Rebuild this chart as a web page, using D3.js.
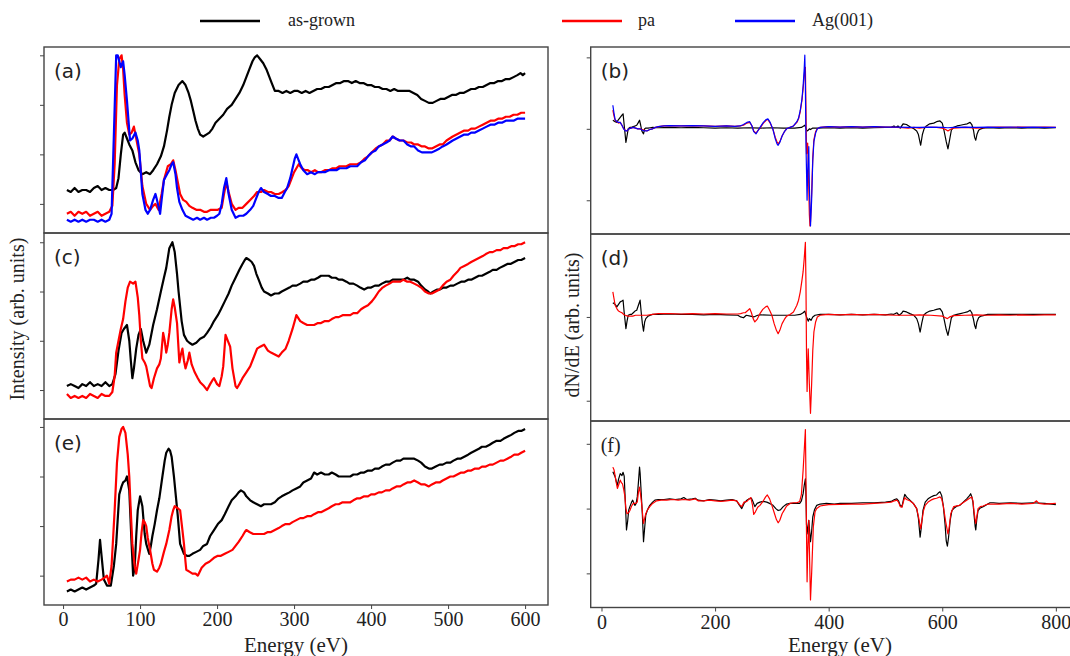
<!DOCTYPE html>
<html>
<head>
<meta charset="utf-8">
<script src="https://cdn.jsdelivr.net/npm/d3@7"></script>
<style>
  body { margin: 0; background: #fff; }
  .frame { fill: none; stroke: #444; stroke-width: 1.4; }
  .tick line { stroke: #444; }
  .domain { display: none; }
  .tick text { font-family: "Liberation Serif", serif; font-size: 20px; fill: #222; }
</style>
</head>
<body>
<div id="chart"></div>
<script>
// ---- data: energy (eV) / intensity (arb.) ----
var seriesNames = ['as-grown', 'pa', 'Ag(001)'];
var seriesColors = ['#000000', '#ff0000', '#0000ff'];
var panelLabels = ['(a)', '(b)', '(c)', '(d)', '(e)', '(f)'];
var leftTicks = [0, 100, 200, 300, 400, 500, 600];
var rightTicks = [0, 200, 400, 600, 800];

// (a) N(E), as-grown / pa / Ag(001)
var aGrown = [[5,0.32],[10,0.31],[15,0.33],[20,0.31],[25,0.32],[30,0.32],[35,0.31],[40,0.33],[45,0.34],[50,0.32],[55,0.33],[60,0.32],[65,0.32],[69,0.33],[72,0.38],[75,0.50],[78,0.60],[80,0.61],[83,0.58],[86,0.55],[90,0.52],[94,0.46],[98,0.42],[103,0.40],[108,0.41],[113,0.40],[117,0.42],[122,0.45],[127,0.49],[131,0.54],[135,0.62],[138,0.69],[141,0.75],[145,0.81],[150,0.85],[155,0.87],[159,0.85],[163,0.81],[166,0.77],[169,0.72],[172,0.67],[175,0.63],[178,0.60],[182,0.59],[186,0.60],[190,0.61],[194,0.63],[198,0.66],[203,0.68],[208,0.70],[213,0.73],[219,0.75],[224,0.78],[229,0.81],[234,0.85],[238,0.89],[242,0.93],[246,0.97],[249,0.99],[252,1.0],[256,0.98],[260,0.96],[264,0.93],[268,0.89],[271,0.86],[275,0.82],[280,0.82],[285,0.81],[290,0.82],[295,0.81],[300,0.82],[305,0.82],[310,0.81],[315,0.82],[320,0.81],[325,0.82],[330,0.83],[335,0.83],[340,0.84],[345,0.84],[350,0.85],[355,0.86],[360,0.86],[365,0.87],[370,0.87],[375,0.86],[380,0.87],[385,0.86],[390,0.86],[395,0.85],[400,0.85],[405,0.84],[410,0.84],[415,0.83],[420,0.83],[425,0.82],[430,0.83],[435,0.82],[440,0.82],[445,0.82],[450,0.82],[455,0.81],[460,0.80],[465,0.78],[470,0.77],[475,0.76],[480,0.76],[485,0.77],[490,0.78],[495,0.78],[500,0.79],[505,0.80],[510,0.80],[515,0.81],[520,0.81],[525,0.82],[530,0.83],[535,0.83],[540,0.84],[545,0.84],[550,0.85],[555,0.86],[560,0.86],[565,0.87],[570,0.87],[575,0.88],[580,0.88],[585,0.89],[590,0.90],[594,0.91],[597,0.90],[600,0.91]];
var aPa = [[5,0.20],[10,0.21],[15,0.19],[20,0.21],[25,0.20],[30,0.21],[35,0.19],[40,0.20],[45,0.21],[50,0.19],[55,0.20],[60,0.21],[64,0.24],[67,0.45],[70,0.85],[73,0.98],[76,1.0],[78,0.93],[80,0.80],[83,0.66],[86,0.60],[89,0.61],[92,0.64],[95,0.58],[99,0.50],[103,0.34],[108,0.25],[113,0.22],[117,0.24],[120,0.25],[124,0.22],[128,0.30],[131,0.37],[136,0.44],[140,0.45],[143,0.47],[146,0.42],[148,0.38],[152,0.30],[156,0.27],[160,0.26],[164,0.24],[168,0.23],[173,0.22],[178,0.22],[183,0.21],[187,0.21],[192,0.22],[196,0.22],[201,0.22],[206,0.23],[209,0.30],[212,0.36],[215,0.31],[219,0.25],[224,0.22],[228,0.23],[233,0.23],[238,0.25],[243,0.27],[248,0.29],[252,0.31],[257,0.31],[261,0.32],[266,0.31],[270,0.31],[275,0.30],[280,0.30],[285,0.31],[289,0.32],[293,0.34],[296,0.37],[300,0.41],[303,0.43],[306,0.45],[310,0.43],[314,0.42],[318,0.42],[322,0.41],[327,0.42],[331,0.41],[335,0.41],[340,0.42],[345,0.42],[350,0.43],[355,0.43],[359,0.44],[364,0.44],[368,0.44],[373,0.45],[378,0.45],[382,0.45],[387,0.46],[392,0.48],[396,0.49],[401,0.51],[406,0.53],[410,0.54],[415,0.55],[420,0.57],[424,0.57],[428,0.59],[432,0.58],[437,0.57],[442,0.57],[447,0.56],[452,0.56],[456,0.55],[461,0.55],[466,0.54],[470,0.54],[475,0.53],[479,0.53],[484,0.54],[489,0.55],[493,0.55],[498,0.57],[502,0.58],[506,0.59],[511,0.60],[516,0.61],[521,0.62],[526,0.62],[530,0.63],[535,0.63],[540,0.64],[545,0.65],[550,0.66],[555,0.67],[560,0.67],[565,0.68],[570,0.68],[575,0.69],[580,0.69],[585,0.70],[590,0.70],[595,0.71],[600,0.71]];
var aAg = [[5,0.17],[10,0.16],[15,0.17],[20,0.16],[25,0.17],[30,0.16],[35,0.17],[40,0.17],[45,0.16],[50,0.17],[55,0.16],[60,0.17],[63,0.20],[66,0.60],[69,1.0],[71,1.0],[73,0.97],[75,0.94],[78,0.97],[80,0.90],[83,0.77],[87,0.57],[90,0.58],[94,0.61],[97,0.57],[99,0.52],[103,0.30],[107,0.22],[110,0.20],[113,0.22],[117,0.27],[120,0.30],[122,0.27],[126,0.20],[128,0.27],[131,0.37],[135,0.40],[138,0.42],[141,0.45],[143,0.46],[146,0.40],[148,0.33],[151,0.26],[155,0.22],[159,0.19],[164,0.18],[169,0.17],[174,0.18],[178,0.17],[183,0.18],[187,0.17],[192,0.18],[196,0.18],[200,0.19],[203,0.20],[206,0.25],[209,0.33],[212,0.38],[215,0.30],[219,0.22],[224,0.18],[229,0.19],[234,0.19],[238,0.20],[243,0.22],[247,0.24],[250,0.27],[254,0.31],[257,0.33],[261,0.31],[266,0.30],[270,0.29],[275,0.29],[280,0.28],[284,0.28],[288,0.31],[291,0.33],[295,0.38],[298,0.43],[301,0.48],[303,0.50],[306,0.47],[308,0.45],[312,0.42],[317,0.40],[322,0.41],[327,0.40],[331,0.41],[335,0.41],[340,0.41],[345,0.42],[350,0.42],[355,0.42],[359,0.43],[364,0.43],[368,0.43],[373,0.44],[378,0.44],[382,0.44],[387,0.46],[392,0.47],[396,0.49],[401,0.51],[406,0.52],[410,0.54],[415,0.55],[420,0.56],[424,0.57],[428,0.59],[432,0.58],[437,0.57],[442,0.57],[447,0.55],[452,0.54],[456,0.54],[461,0.52],[466,0.51],[470,0.51],[475,0.51],[479,0.51],[484,0.52],[489,0.53],[493,0.54],[498,0.55],[502,0.56],[506,0.57],[511,0.58],[516,0.59],[521,0.60],[526,0.60],[530,0.61],[535,0.61],[540,0.62],[545,0.63],[550,0.64],[555,0.65],[560,0.65],[565,0.66],[570,0.66],[575,0.67],[580,0.67],[585,0.67],[590,0.68],[595,0.68],[600,0.68]];

// (c) N(E), as-grown / pa
var cGrown = [[5,0.27],[10,0.28],[15,0.27],[20,0.26],[25,0.28],[30,0.27],[35,0.29],[40,0.27],[45,0.28],[50,0.27],[55,0.29],[60,0.27],[64,0.28],[68,0.33],[72,0.45],[76,0.54],[79,0.56],[83,0.58],[86,0.50],[88,0.40],[90,0.31],[92,0.36],[95,0.46],[98,0.53],[101,0.56],[104,0.50],[108,0.44],[112,0.48],[117,0.58],[122,0.66],[127,0.75],[131,0.82],[134,0.87],[138,0.97],[142,1.0],[145,0.95],[148,0.84],[150,0.75],[154,0.60],[157,0.53],[161,0.50],[164,0.49],[168,0.48],[173,0.49],[178,0.51],[183,0.52],[187,0.54],[192,0.57],[196,0.60],[201,0.63],[205,0.66],[210,0.70],[215,0.74],[219,0.78],[224,0.82],[229,0.86],[233,0.89],[236,0.91],[238,0.92],[242,0.91],[245,0.90],[248,0.88],[251,0.84],[254,0.81],[258,0.77],[261,0.75],[266,0.74],[270,0.73],[275,0.74],[280,0.74],[284,0.75],[289,0.76],[294,0.77],[298,0.78],[303,0.78],[308,0.79],[312,0.80],[317,0.80],[322,0.81],[326,0.81],[331,0.82],[335,0.83],[340,0.83],[345,0.83],[349,0.82],[354,0.82],[358,0.81],[363,0.81],[368,0.80],[372,0.79],[377,0.79],[382,0.78],[386,0.77],[391,0.76],[396,0.77],[400,0.77],[405,0.78],[410,0.78],[414,0.79],[419,0.80],[424,0.80],[428,0.81],[433,0.81],[438,0.81],[442,0.81],[447,0.82],[451,0.81],[456,0.81],[461,0.80],[465,0.78],[470,0.76],[474,0.75],[477,0.74],[481,0.75],[486,0.76],[489,0.76],[494,0.77],[498,0.77],[503,0.78],[507,0.78],[512,0.79],[517,0.80],[521,0.80],[526,0.81],[530,0.81],[535,0.82],[540,0.83],[544,0.83],[549,0.84],[554,0.85],[558,0.86],[563,0.86],[567,0.87],[572,0.88],[577,0.89],[581,0.89],[586,0.90],[591,0.91],[595,0.91],[600,0.92]];
var cPa = [[5,0.23],[10,0.21],[15,0.22],[20,0.21],[25,0.22],[30,0.21],[35,0.23],[40,0.22],[45,0.21],[50,0.23],[55,0.22],[60,0.22],[64,0.24],[67,0.32],[69,0.44],[72,0.50],[75,0.56],[78,0.61],[81,0.70],[84,0.77],[87,0.80],[91,0.79],[94,0.80],[97,0.72],[99,0.63],[101,0.50],[103,0.41],[106,0.39],[108,0.37],[111,0.31],[113,0.27],[115,0.26],[118,0.31],[122,0.36],[125,0.38],[127,0.41],[130,0.54],[132,0.50],[134,0.44],[136,0.48],[138,0.54],[141,0.66],[143,0.71],[145,0.67],[148,0.59],[151,0.39],[153,0.43],[155,0.46],[157,0.40],[159,0.36],[162,0.40],[164,0.44],[167,0.38],[171,0.34],[175,0.31],[178,0.29],[183,0.27],[187,0.25],[191,0.28],[194,0.30],[196,0.31],[200,0.28],[203,0.27],[206,0.32],[208,0.37],[211,0.53],[214,0.50],[217,0.47],[220,0.36],[224,0.27],[226,0.26],[229,0.28],[233,0.31],[238,0.34],[243,0.37],[247,0.41],[252,0.46],[256,0.47],[261,0.48],[266,0.45],[270,0.44],[275,0.43],[280,0.42],[284,0.44],[289,0.46],[293,0.50],[298,0.56],[303,0.63],[308,0.60],[312,0.59],[317,0.58],[321,0.58],[326,0.58],[331,0.59],[335,0.59],[340,0.60],[345,0.60],[349,0.61],[354,0.62],[358,0.62],[363,0.63],[368,0.63],[373,0.63],[377,0.64],[382,0.64],[387,0.66],[391,0.67],[396,0.68],[401,0.70],[405,0.72],[410,0.75],[415,0.77],[419,0.78],[424,0.79],[428,0.80],[433,0.80],[438,0.80],[442,0.81],[447,0.80],[451,0.80],[456,0.79],[461,0.78],[465,0.77],[470,0.75],[475,0.74],[479,0.74],[484,0.75],[489,0.76],[493,0.78],[498,0.80],[503,0.81],[507,0.83],[512,0.85],[516,0.87],[521,0.88],[526,0.89],[530,0.90],[535,0.91],[540,0.92],[545,0.93],[549,0.94],[554,0.95],[558,0.95],[563,0.96],[568,0.96],[572,0.97],[577,0.97],[582,0.98],[586,0.98],[591,0.99],[595,0.99],[600,1.0]];

// (e) N(E), as-grown / pa
var eGrown = [[5,0.17],[10,0.18],[15,0.17],[20,0.18],[25,0.19],[30,0.18],[35,0.19],[40,0.20],[43,0.21],[46,0.33],[48,0.43],[50,0.35],[53,0.23],[57,0.20],[62,0.20],[66,0.30],[69,0.41],[73,0.66],[76,0.70],[78,0.72],[81,0.73],[83,0.75],[86,0.68],[88,0.50],[89,0.41],[91,0.25],[93,0.29],[95,0.45],[97,0.58],[100,0.65],[103,0.60],[106,0.46],[108,0.41],[112,0.36],[114,0.40],[116,0.45],[119,0.51],[122,0.58],[125,0.64],[129,0.75],[132,0.83],[134,0.87],[137,0.89],[139,0.88],[141,0.85],[144,0.75],[146,0.67],[149,0.55],[152,0.41],[155,0.38],[157,0.36],[161,0.35],[164,0.35],[168,0.36],[173,0.37],[178,0.38],[182,0.40],[187,0.41],[191,0.45],[196,0.48],[201,0.51],[206,0.53],[210,0.56],[215,0.60],[219,0.63],[224,0.65],[228,0.67],[231,0.68],[235,0.67],[238,0.65],[243,0.63],[247,0.62],[252,0.61],[257,0.60],[261,0.61],[266,0.61],[270,0.61],[275,0.62],[280,0.64],[284,0.65],[289,0.66],[294,0.67],[298,0.68],[303,0.69],[308,0.70],[312,0.72],[317,0.73],[322,0.74],[326,0.77],[330,0.76],[335,0.77],[340,0.76],[345,0.76],[349,0.77],[354,0.76],[358,0.75],[363,0.75],[368,0.75],[373,0.75],[377,0.76],[382,0.76],[387,0.77],[391,0.77],[396,0.78],[401,0.78],[405,0.79],[410,0.79],[414,0.80],[419,0.81],[424,0.81],[428,0.82],[433,0.83],[438,0.83],[442,0.84],[447,0.84],[451,0.84],[456,0.84],[461,0.83],[465,0.82],[470,0.80],[475,0.79],[479,0.79],[484,0.80],[489,0.81],[493,0.81],[498,0.82],[503,0.82],[507,0.83],[512,0.84],[516,0.84],[521,0.85],[526,0.86],[530,0.87],[535,0.88],[540,0.89],[544,0.90],[549,0.90],[554,0.91],[558,0.92],[563,0.93],[568,0.93],[572,0.94],[577,0.95],[582,0.96],[586,0.97],[591,0.98],[595,0.98],[600,0.99]];
var ePa = [[5,0.22],[10,0.23],[15,0.23],[20,0.24],[25,0.23],[30,0.24],[35,0.22],[40,0.23],[45,0.22],[50,0.23],[54,0.24],[57,0.25],[60,0.21],[63,0.30],[67,0.58],[70,0.82],[73,0.95],[76,0.99],[78,1.0],[81,0.97],[84,0.86],[86,0.75],[88,0.57],[90,0.41],[93,0.30],[95,0.26],[98,0.33],[100,0.38],[102,0.47],[104,0.53],[106,0.52],[108,0.50],[110,0.44],[113,0.38],[116,0.31],[118,0.28],[122,0.27],[125,0.29],[127,0.31],[131,0.37],[134,0.41],[138,0.48],[141,0.55],[143,0.58],[145,0.60],[149,0.59],[152,0.58],[155,0.48],[157,0.41],[159,0.32],[160,0.28],[164,0.27],[168,0.26],[172,0.26],[175,0.25],[180,0.29],[185,0.31],[190,0.32],[196,0.34],[201,0.35],[205,0.35],[210,0.36],[215,0.37],[220,0.38],[224,0.40],[228,0.42],[233,0.45],[236,0.47],[238,0.48],[242,0.47],[247,0.46],[252,0.46],[257,0.46],[261,0.46],[266,0.47],[270,0.47],[275,0.48],[280,0.49],[284,0.50],[289,0.51],[294,0.51],[298,0.52],[303,0.53],[308,0.54],[312,0.54],[317,0.55],[322,0.55],[326,0.56],[331,0.57],[335,0.57],[340,0.58],[345,0.59],[349,0.60],[354,0.61],[358,0.61],[363,0.62],[368,0.62],[373,0.62],[377,0.63],[382,0.64],[386,0.64],[391,0.65],[396,0.65],[400,0.66],[405,0.66],[410,0.67],[414,0.67],[419,0.68],[424,0.68],[428,0.69],[433,0.70],[438,0.70],[442,0.71],[447,0.72],[451,0.72],[456,0.73],[461,0.72],[465,0.71],[470,0.71],[475,0.70],[479,0.71],[484,0.72],[489,0.72],[493,0.73],[498,0.74],[503,0.75],[507,0.75],[512,0.76],[517,0.77],[521,0.77],[526,0.78],[530,0.78],[535,0.79],[540,0.79],[544,0.80],[549,0.80],[554,0.81],[558,0.81],[563,0.82],[568,0.83],[572,0.83],[577,0.84],[582,0.85],[586,0.86],[591,0.86],[595,0.87],[600,0.88]];

// (b) dN/dE, as-grown / pa / Ag(001)
var bGrown = [[20,0.12],[24,0.10],[27,0.09],[30,0.13],[33,0.16],[36,0.19],[38,0.21],[40,0.05],[43,-0.19],[45,-0.10],[47,0.0],[50,0.02],[53,0.02],[56,0.03],[59,0.04],[62,0.05],[65,0.09],[67,0.12],[69,0.05],[71,-0.03],[74,-0.07],[76,0.0],[78,0.01],[82,0.01],[86,0.015],[90,0.02],[100,0.015],[120,0.02],[140,0.015],[160,0.02],[180,0.015],[200,0.01],[220,0.015],[240,0.01],[260,0.015],[280,0.01],[300,0.015],[320,0.01],[340,0.01],[352,0.02],[356,0.04],[358,0.05],[360,0.01],[362,-0.03],[364,-0.02],[366,0.0],[368,-0.01],[372,0.01],[380,0.01],[400,0.015],[420,0.01],[440,0.015],[460,0.01],[480,0.015],[500,0.02],[510,0.02],[515,0.04],[518,0.02],[522,0.04],[526,0.01],[531,0.07],[537,0.06],[543,0.03],[550,0.0],[555,-0.03],[558,-0.08],[562,-0.23],[565,-0.08],[568,0.0],[572,0.04],[578,0.07],[585,0.08],[590,0.10],[596,0.11],[600,0.08],[603,-0.02],[607,-0.18],[610,-0.28],[613,-0.15],[616,-0.02],[620,0.02],[626,0.04],[632,0.05],[638,0.06],[644,0.07],[649,0.09],[652,0.06],[655,-0.02],[657,-0.12],[659,-0.16],[661,-0.08],[664,-0.02],[668,0.0],[672,0.01],[680,0.015],[700,0.01],[720,0.015],[740,0.01],[760,0.015],[780,0.01],[800,0.015]];
var bPa = [[20,0.26],[22,0.18],[24,0.12],[27,0.10],[30,0.08],[33,0.09],[36,0.05],[39,0.0],[42,-0.02],[45,-0.03],[48,0.0],[52,0.01],[56,0.02],[60,0.01],[64,0.0],[68,0.0],[72,-0.01],[76,-0.02],[80,-0.03],[85,-0.01],[90,0.0],[95,0.02],[100,0.03],[110,0.04],[120,0.045],[140,0.04],[160,0.045],[180,0.04],[200,0.035],[220,0.04],[235,0.035],[244,0.04],[250,0.05],[256,0.08],[261,0.09],[265,0.04],[268,-0.03],[272,-0.06],[276,-0.02],[280,0.02],[285,0.08],[290,0.12],[293,0.13],[297,0.08],[302,-0.01],[306,-0.12],[309,-0.18],[311,-0.21],[314,-0.18],[318,-0.10],[322,-0.04],[326,0.0],[332,0.02],[338,0.04],[344,0.09],[347,0.14],[350,0.24],[353,0.40],[355,0.56],[357,0.74],[358,0.84],[359,0.86],[360,0.30],[361,-0.35],[362,-0.33],[363,-0.20],[364,-0.50],[366,-1.20],[367,-1.36],[368,-1.30],[370,-0.90],[372,-0.40],[374,-0.15],[377,-0.04],[380,0.0],[385,0.02],[390,0.025],[400,0.03],[420,0.025],[440,0.03],[460,0.025],[480,0.03],[500,0.025],[520,0.02],[530,0.015],[540,0.01],[550,0.02],[560,0.01],[570,0.02],[590,0.02],[600,0.01],[606,-0.01],[610,-0.03],[614,-0.01],[620,0.01],[640,0.02],[660,0.01],[680,0.02],[700,0.025],[720,0.02],[740,0.025],[760,0.02],[780,0.025],[800,0.02]];
var bAg = [[20,0.33],[22,0.22],[24,0.13],[27,0.10],[30,0.09],[33,0.09],[36,0.05],[39,0.0],[42,-0.03],[45,-0.03],[48,0.0],[52,0.01],[56,0.02],[60,0.01],[64,0.0],[68,0.0],[72,-0.02],[76,-0.03],[80,-0.03],[85,-0.01],[90,0.0],[95,0.02],[100,0.03],[110,0.04],[120,0.045],[140,0.04],[160,0.045],[180,0.04],[200,0.035],[220,0.04],[235,0.035],[244,0.04],[250,0.06],[256,0.09],[261,0.10],[265,0.04],[268,-0.04],[272,-0.07],[276,-0.02],[280,0.03],[285,0.09],[290,0.13],[293,0.14],[297,0.09],[302,-0.01],[306,-0.14],[309,-0.21],[311,-0.23],[314,-0.19],[318,-0.10],[322,-0.04],[326,0.0],[332,0.02],[338,0.04],[344,0.10],[347,0.15],[350,0.26],[353,0.42],[355,0.60],[357,0.85],[358,1.03],[359,0.60],[360,-0.20],[362,-1.0],[363,-0.6],[365,-0.25],[366,-0.8],[368,-1.36],[370,-1.0],[372,-0.45],[374,-0.18],[377,-0.06],[380,0.0],[385,0.02],[390,0.025],[400,0.03],[420,0.025],[440,0.03],[460,0.025],[480,0.03],[500,0.025],[520,0.025],[540,0.02],[560,0.02],[580,0.025],[600,0.02],[610,0.015],[620,0.02],[640,0.025],[660,0.02],[680,0.025],[700,0.02],[720,0.025],[740,0.02],[760,0.025],[780,0.02],[800,0.02]];

// (d) dN/dE, as-grown / pa
var dGrown = [[20,0.17],[24,0.15],[27,0.12],[30,0.15],[33,0.18],[36,0.19],[38,0.20],[40,0.05],[43,-0.14],[45,-0.05],[47,0.02],[50,0.03],[53,0.03],[56,0.05],[59,0.07],[62,0.08],[65,0.14],[68,0.20],[70,0.05],[72,-0.08],[74,-0.17],[76,-0.06],[78,-0.02],[82,0.01],[86,0.02],[90,0.03],[100,0.03],[120,0.035],[140,0.03],[160,0.03],[180,0.025],[200,0.03],[220,0.025],[240,0.02],[245,0.0],[250,-0.01],[255,0.02],[262,0.01],[268,0.0],[275,0.02],[280,0.025],[300,0.02],[320,0.02],[340,0.02],[350,0.03],[355,0.05],[358,0.07],[361,0.0],[364,-0.05],[366,-0.02],[369,-0.04],[372,0.0],[376,0.02],[385,0.03],[400,0.03],[420,0.025],[440,0.03],[460,0.025],[480,0.03],[500,0.025],[510,0.035],[514,0.03],[520,0.05],[524,0.02],[528,0.04],[531,0.07],[537,0.06],[543,0.04],[550,0.02],[555,-0.02],[558,-0.08],[561,-0.18],[564,-0.07],[567,0.02],[572,0.05],[578,0.07],[585,0.08],[590,0.09],[596,0.10],[600,0.06],[603,-0.02],[607,-0.15],[610,-0.22],[613,-0.12],[616,-0.01],[620,0.02],[626,0.03],[632,0.04],[638,0.05],[644,0.06],[649,0.08],[652,0.05],[655,-0.03],[657,-0.10],[659,-0.14],[661,-0.06],[664,-0.01],[668,0.01],[672,0.015],[680,0.03],[700,0.03],[720,0.03],[740,0.03],[760,0.03],[780,0.03],[800,0.03]];
var dPa = [[20,0.30],[22,0.22],[24,0.14],[27,0.10],[30,0.07],[33,0.06],[36,0.05],[39,0.03],[42,0.02],[46,0.01],[50,0.01],[55,0.01],[60,0.02],[70,0.02],[80,0.02],[90,0.03],[100,0.04],[120,0.04],[140,0.035],[160,0.04],[180,0.035],[200,0.04],[220,0.035],[240,0.035],[245,0.04],[250,0.05],[253,0.05],[258,0.08],[261,0.10],[264,0.05],[267,-0.02],[270,-0.06],[274,-0.03],[279,0.04],[284,0.09],[289,0.12],[292,0.13],[296,0.08],[300,0.02],[304,-0.08],[308,-0.16],[311,-0.20],[314,-0.16],[318,-0.08],[322,-0.03],[326,0.01],[332,0.03],[338,0.06],[344,0.14],[347,0.20],[350,0.30],[353,0.44],[355,0.54],[357,0.70],[359,0.89],[360,0.40],[361,-0.45],[362,-0.89],[363,-0.60],[364,-0.38],[366,-0.80],[368,-1.15],[370,-0.80],[372,-0.40],[374,-0.18],[377,-0.06],[380,0.0],[385,0.02],[390,0.025],[400,0.03],[420,0.025],[440,0.03],[460,0.025],[480,0.03],[500,0.025],[520,0.02],[540,0.02],[560,0.025],[580,0.02],[600,0.01],[606,-0.01],[609,-0.02],[613,0.0],[620,0.015],[640,0.02],[660,0.025],[680,0.02],[700,0.025],[720,0.02],[740,0.025],[760,0.02],[780,0.025],[800,0.025]];

// (f) dN/dE, as-grown / pa
var fGrown = [[20,0.57],[22,0.53],[24,0.49],[26,0.42],[28,0.36],[30,0.45],[33,0.54],[35,0.52],[36,0.51],[38,0.56],[40,0.50],[42,0.10],[44,-0.33],[46,-0.20],[48,-0.02],[50,0.03],[53,0.10],[55,0.13],[57,0.08],[59,0.05],[61,0.08],[63,0.18],[65,0.40],[67,0.64],[68,0.55],[70,0.23],[72,-0.10],[74,-0.51],[76,-0.30],[78,-0.10],[81,-0.02],[85,0.05],[90,0.10],[94,0.13],[100,0.14],[110,0.14],[120,0.15],[130,0.14],[140,0.15],[145,0.17],[150,0.14],[160,0.15],[165,0.16],[170,0.13],[180,0.12],[190,0.14],[200,0.13],[210,0.12],[220,0.13],[230,0.14],[238,0.12],[243,0.05],[247,0.0],[251,0.08],[256,0.13],[260,0.15],[264,0.16],[267,0.10],[270,0.03],[274,0.08],[279,0.10],[285,0.11],[291,0.10],[296,0.08],[302,0.05],[307,0.0],[311,-0.03],[315,-0.02],[320,0.03],[326,0.07],[332,0.08],[340,0.08],[349,0.08],[352,0.12],[355,0.23],[357,0.36],[359,0.46],[360,0.20],[361,-0.25],[362,-0.39],[364,-0.25],[365,-0.18],[367,-0.40],[368,-0.51],[370,-0.35],[372,-0.13],[375,-0.02],[379,0.05],[385,0.07],[396,0.08],[410,0.07],[420,0.08],[440,0.08],[460,0.09],[480,0.09],[500,0.10],[510,0.11],[516,0.14],[520,0.15],[523,0.12],[526,0.05],[529,0.03],[532,0.15],[534,0.22],[537,0.18],[543,0.13],[549,0.08],[555,0.0],[558,-0.15],[561,-0.44],[563,-0.30],[566,-0.03],[570,0.10],[575,0.15],[580,0.18],[585,0.20],[590,0.21],[593,0.24],[596,0.26],[599,0.20],[602,0.03],[605,-0.25],[607,-0.50],[609,-0.58],[611,-0.45],[614,-0.18],[617,-0.03],[620,0.0],[626,0.04],[631,0.05],[637,0.10],[643,0.15],[646,0.18],[648,0.20],[650,0.23],[652,0.18],[654,0.10],[656,-0.10],[658,-0.28],[659,-0.33],[661,-0.15],[663,-0.03],[667,0.01],[672,0.03],[678,0.06],[684,0.09],[690,0.09],[700,0.08],[720,0.09],[740,0.08],[760,0.09],[780,0.08],[800,0.06]];
var fPa = [[20,0.64],[22,0.60],[24,0.51],[26,0.40],[28,0.31],[30,0.36],[33,0.44],[35,0.40],[37,0.38],[39,0.30],[41,0.20],[43,0.0],[45,-0.08],[48,-0.06],[50,-0.03],[53,0.04],[56,0.08],[60,0.08],[63,0.10],[65,0.25],[67,0.33],[69,0.20],[71,0.05],[73,-0.15],[74,-0.23],[76,-0.15],[78,-0.08],[81,-0.02],[85,0.03],[90,0.08],[97,0.12],[105,0.13],[115,0.13],[125,0.14],[135,0.13],[145,0.14],[155,0.13],[165,0.15],[170,0.12],[180,0.12],[190,0.13],[200,0.12],[210,0.11],[220,0.12],[230,0.13],[238,0.12],[243,0.06],[247,0.03],[251,0.10],[256,0.11],[260,0.15],[263,0.17],[266,0.05],[268,-0.09],[271,-0.05],[275,0.02],[279,0.05],[285,0.12],[289,0.18],[292,0.21],[296,0.15],[300,0.05],[304,-0.06],[308,-0.17],[311,-0.22],[314,-0.18],[318,-0.08],[322,-0.02],[326,0.04],[332,0.08],[338,0.09],[344,0.09],[349,0.11],[352,0.22],[355,0.59],[357,0.90],[359,1.22],[360,0.50],[361,-0.40],[362,-1.13],[363,-0.70],[365,-0.18],[366,-0.60],[368,-1.41],[370,-1.00],[373,-0.28],[376,-0.05],[379,0.0],[385,0.04],[391,0.05],[400,0.06],[420,0.065],[440,0.07],[460,0.07],[480,0.08],[500,0.09],[510,0.10],[516,0.12],[520,0.13],[523,0.10],[526,0.03],[529,0.02],[532,0.12],[534,0.17],[537,0.14],[543,0.12],[549,0.08],[555,0.0],[558,-0.12],[562,-0.31],[564,-0.20],[567,-0.03],[570,0.05],[575,0.10],[580,0.13],[585,0.15],[590,0.16],[596,0.18],[599,0.15],[602,0.03],[606,-0.20],[610,-0.39],[612,-0.30],[615,-0.08],[620,0.03],[630,0.05],[643,0.13],[648,0.16],[652,0.18],[654,0.12],[656,-0.05],[658,-0.18],[659,-0.23],[661,-0.12],[663,0.0],[667,0.03],[672,0.04],[680,0.07],[700,0.07],[720,0.08],[740,0.07],[760,0.08],[766,0.12],[770,0.08],[780,0.07],[800,0.08]];

// ---- layout ----
var _width = 1070, _height = 656;
var serif = '"Liberation Serif", "Times New Roman", serif';
var sans = '"DejaVu Sans", sans-serif';

var svg = d3.select('#chart').append('svg')
  .attr('width', _width)
  .attr('height', _height);

var xLeft = d3.scaleLinear().domain([-24.75, 629.75]).range([44, 548]);
var xRight = d3.scaleLinear().domain([-19, 839]).range([590.7, 1078]);

var panels = [
  {label: panelLabels[0], x: xLeft, top: 47, h: 186, dom: [0.103, 1.042], ticks: [0.25, 0.5, 0.75, 1], series: [aGrown, aPa, aAg], lw: 2.2, font: sans},
  {label: panelLabels[2], x: xLeft, top: 233, h: 186, dom: [0.103, 1.047], ticks: [0.25, 0.5, 0.75, 1], series: [cGrown, cPa], lw: 2.2, font: sans},
  {label: panelLabels[4], x: xLeft, top: 419, h: 186, dom: [0.102, 1.04], ticks: [0.25, 0.5, 0.75, 1], series: [eGrown, ePa], lw: 2.2, font: sans, bottom: true},
  {label: panelLabels[1], x: xRight, top: 47, h: 187, dom: [-1.472, 1.145], ticks: [-1, 0, 1], series: [bGrown, bPa, bAg], lw: 1.2, font: sans},
  {label: panelLabels[3], x: xRight, top: 234, h: 187, dom: [-1.242, 0.99], ticks: [-1, 0], series: [dGrown, dPa], lw: 1.2, font: sans},
  {label: panelLabels[5], x: xRight, top: 421, h: 186.5, dom: [-1.527, 1.352], ticks: [-1, 0, 1], series: [fGrown, fPa], lw: 1.2, font: serif, bottom: true}
];

panels.forEach(function (p, k) {
  var x = p.x;
  var y = d3.scaleLinear().domain(p.dom).range([p.top + p.h, p.top]);
  var x0 = x.range()[0], x1 = x.range()[1];
  var g = svg.append('g').attr('class', 'panel');

  g.append('clipPath').attr('id', 'clip' + k)
    .append('rect')
    .attr('x', x0).attr('y', p.top)
    .attr('width', x1 - x0).attr('height', p.h);

  var line = d3.line()
    .x(function (d) { return x(d[0]); })
    .y(function (d) { return y(d[1]); });

  // draw black first, then red, then blue on top
  g.append('g').attr('clip-path', 'url(#clip' + k + ')')
    .selectAll('path')
    .data(p.series)
    .enter()
    .append('path')
    .attr('d', line)
    .attr('fill', 'none')
    .attr('stroke', function (d, i) { return seriesColors[i]; })
    .attr('stroke-width', p.lw)
    .attr('stroke-linejoin', 'round');

  g.append('g')
    .attr('transform', 'translate(' + x0 + ',0)')
    .call(d3.axisLeft(y).tickValues(p.ticks).tickSize(4).tickFormat(''));

  if (p.bottom) {
    g.append('g')
      .attr('transform', 'translate(0,' + (p.top + p.h) + ')')
      .call(d3.axisBottom(x).tickValues(x === xLeft ? leftTicks : rightTicks).tickSize(4).tickPadding(3));
  }

  g.append('rect')
    .attr('class', 'frame')
    .attr('x', x0).attr('y', p.top)
    .attr('width', x1 - x0).attr('height', p.h);

  g.append('text')
    .attr('x', x0 + 10)
    .attr('y', p.top + 31)
    .attr('font-family', p.font)
    .attr('font-size', 20)
    .attr('fill', '#222')
    .text(p.label);
});

// axis titles
svg.append('text')
  .attr('x', 296).attr('y', 652)
  .attr('text-anchor', 'middle')
  .attr('font-family', serif).attr('font-size', 21).attr('fill', '#222')
  .text('Energy (eV)');
svg.append('text')
  .attr('x', 840).attr('y', 652)
  .attr('text-anchor', 'middle')
  .attr('font-family', serif).attr('font-size', 21).attr('fill', '#222')
  .text('Energy (eV)');
svg.append('text')
  .attr('transform', 'translate(24,319) rotate(-90)')
  .attr('text-anchor', 'middle')
  .attr('font-family', serif).attr('font-size', 20).attr('fill', '#222')
  .text('Intensity (arb. units)');
svg.append('text')
  .attr('transform', 'translate(579,325) rotate(-90)')
  .attr('text-anchor', 'middle')
  .attr('font-family', serif).attr('font-size', 20).attr('fill', '#222')
  .text('dN/dE (arb. units)');

// legend
var legendX = [200, 562, 735];
var legendTextX = [288, 638, 812];
var legend = svg.append('g').attr('class', 'legend');
seriesNames.forEach(function (name, i) {
  legend.append('line')
    .attr('x1', legendX[i]).attr('x2', legendX[i] + 60)
    .attr('y1', 21).attr('y2', 21)
    .attr('stroke', seriesColors[i]).attr('stroke-width', 2.5);
  legend.append('text')
    .attr('x', legendTextX[i]).attr('y', 26)
    .attr('font-family', serif).attr('font-size', 18).attr('fill', '#222')
    .text(name);
});
</script>
</body>
</html>
